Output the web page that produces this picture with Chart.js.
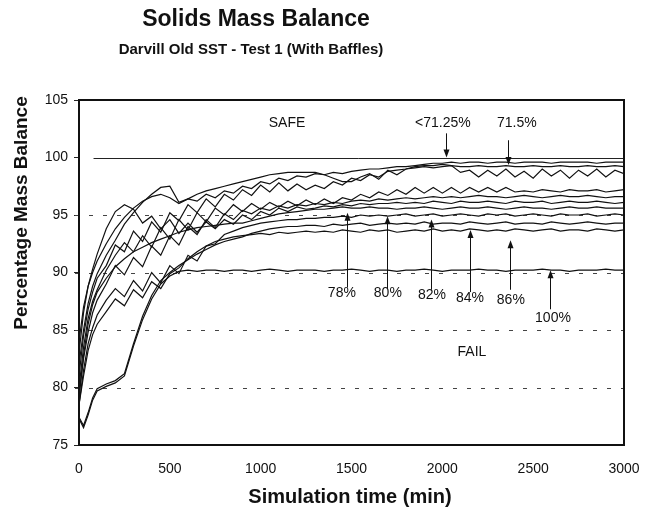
<!DOCTYPE html>
<html>
<head>
<meta charset="utf-8">
<script src="https://cdn.jsdelivr.net/npm/chart.js@4.4.1/dist/chart.umd.min.js"></script>
<style>
  html, body { margin: 0; padding: 0; background: #fff; }
  #wrap { width: 656px; height: 510px; position: relative; }
</style>
</head>
<body>
<div id="wrap"><canvas id="chart"></canvas></div>
<script>
// Simulation time (min), shared by every run
const times = [0, 25, 50, 75, 100, 150, 200, 250,
  300, 350, 400, 450, 500, 550, 600, 650, 700, 750,
  800, 850, 900, 950, 1000, 1050, 1100, 1150, 1200, 1250,
  1300, 1350, 1400, 1450, 1500, 1550, 1600, 1650, 1700, 1750,
  1800, 1850, 1900, 1950, 2000, 2050, 2100, 2150, 2200, 2250,
  2300, 2350, 2400, 2450, 2500, 2550, 2600, 2650, 2700, 2750,
  2800, 2850, 2900, 2950, 3000];

// Percentage mass balance per run
const runA = [82.0, 85.0, 87.3, 88.8, 89.9, 91.5, 92.8, 94.2,
  95.2, 96.1, 96.8, 97.4, 97.5, 96.1, 96.4, 96.2, 96.8, 96.5,
  97.1, 96.9, 97.5, 97.3, 97.9, 97.7, 98.2, 98.0, 98.4, 98.3,
  98.6, 98.5, 98.7, 98.6, 98.8, 98.9, 99.0, 99.0, 99.1, 99.2,
  99.2, 99.3, 99.4, 99.5, 99.5, 99.6, 99.5, 99.6, 99.6, 99.5,
  99.6, 99.6, 99.5, 99.6, 99.6, 99.6, 99.5, 99.6, 99.6, 99.6,
  99.6, 99.5, 99.6, 99.6, 99.6];
const runB = [81.0, 84.5, 86.8, 88.3, 89.5, 90.6, 92.4, 91.8,
  93.6, 92.7, 94.4, 93.5, 95.2, 94.5, 95.9, 95.2, 96.4, 95.7,
  96.8, 96.3, 97.2, 96.7, 97.6, 97.0, 97.8, 97.1, 97.7, 97.2,
  97.6, 97.3, 97.9, 97.6, 98.2, 98.0, 98.5, 98.3, 98.8, 98.9,
  99.0, 99.2, 99.3, 99.3, 99.4, 99.3, 98.7, 98.9, 98.3, 98.9,
  98.4, 99.0, 98.3, 98.8, 98.2, 99.0, 98.4, 98.9, 98.2, 98.9,
  98.4, 99.0, 98.3, 98.9, 98.6];
const runC = [84.0, 87.0, 88.8, 90.0, 91.0, 92.5, 93.8, 94.8,
  95.6, 96.2, 96.6, 96.8, 96.5, 96.0, 96.4, 96.8, 97.1, 97.3,
  97.5, 97.7, 97.9, 98.1, 98.3, 98.5, 98.6, 98.7, 98.7, 98.7,
  98.7, 98.5, 98.2, 97.9, 97.9, 98.3, 98.6, 98.1, 98.9, 98.5,
  99.0, 99.1, 99.2, 99.1, 99.2, 99.3, 99.2, 99.2, 99.3, 99.2,
  99.2, 99.3, 99.2, 99.2, 99.3, 99.2, 99.2, 99.3, 99.2, 99.2,
  99.3, 99.2, 99.2, 99.3, 99.2];
const runD = [80.0, 83.5, 86.0, 87.5, 88.5, 90.2, 91.5, 92.6,
  91.8, 93.2, 92.2, 93.9, 92.9, 94.6, 93.7, 95.2, 94.4, 95.6,
  95.0, 95.9, 95.3, 96.0, 95.5, 96.1, 95.7, 96.2, 95.8, 96.3,
  95.9, 96.4, 96.0, 96.5, 96.3, 96.8, 96.5, 97.0, 96.7, 97.2,
  96.8, 97.4, 96.9, 97.4, 96.9, 97.4, 96.9, 97.4, 97.0, 97.4,
  97.0, 97.4, 97.0, 97.1, 97.0, 97.2, 97.1, 97.0, 97.2, 97.1,
  97.1, 97.2, 97.0, 97.1, 97.2];
const runE = [79.5, 82.5, 84.8, 86.5, 87.6, 89.0, 90.6, 89.8,
  91.3, 90.5, 92.3, 91.5, 93.2, 92.4, 94.0, 93.3, 94.6, 93.9,
  95.1, 94.6, 95.4, 95.1, 95.6, 95.4, 95.8, 95.6, 95.9, 95.8,
  96.0, 95.9, 96.1, 96.0, 96.2, 96.3, 96.2, 96.4, 96.3, 96.4,
  96.5, 96.4, 96.5, 96.6, 96.5, 96.6, 96.5, 96.6, 96.7, 96.6,
  96.6, 96.5, 96.6, 96.7, 96.6, 96.5, 96.6, 96.7, 96.6, 96.6,
  96.7, 96.6, 96.5, 96.6, 96.6];
const run78 = [83.0, 86.5, 88.8, 90.3, 91.6, 93.8, 95.3, 95.9,
  95.5, 94.3, 94.9, 93.8, 94.6, 93.4, 94.3, 93.5, 94.4, 93.8,
  94.6, 94.2, 95.0, 94.6, 95.3, 95.0, 95.6, 95.3, 95.7, 95.5,
  95.6, 95.8, 95.7, 95.9, 95.8, 96.0, 95.9, 96.0, 96.0, 96.1,
  96.0, 96.1, 96.0, 96.2, 96.1, 96.0, 96.2, 96.1, 96.1, 96.2,
  96.1, 96.0, 96.2, 96.1, 96.1, 96.2, 96.0, 96.1, 96.2, 96.1,
  96.1, 96.2, 96.1, 96.0, 96.1];
const run80 = [79.0, 82.8, 85.5, 87.2, 88.3, 89.5, 90.5, 91.2,
  91.8, 92.2, 92.6, 92.9, 93.2, 93.5, 93.7, 93.9, 94.0, 94.1,
  94.2, 94.3, 94.3, 94.5, 94.7, 94.9, 95.1, 95.2, 95.3, 95.4,
  95.5, 95.5, 95.6, 95.7, 95.6, 95.6, 95.7, 95.6, 95.6, 95.5,
  95.6, 95.6, 95.7, 95.6, 95.5, 95.6, 95.7, 95.6, 95.6, 95.7,
  95.6, 95.5, 95.6, 95.7, 95.6, 95.6, 95.5, 95.6, 95.7, 95.6,
  95.6, 95.7, 95.6, 95.6, 95.6];
const run82 = [78.5, 81.5, 83.8, 85.2, 86.3, 87.6, 88.6, 87.9,
  89.3, 88.4, 90.0, 89.1, 90.6, 89.9, 91.5, 91.0, 92.3, 92.5,
  93.3, 93.6, 93.9, 94.1, 94.3, 94.4, 94.5, 94.6, 94.6, 94.7,
  94.7, 94.8, 94.8, 94.9, 94.8, 95.0, 94.9, 95.0, 94.9, 95.0,
  95.1, 94.9, 95.0, 95.1, 94.9, 95.0, 95.1, 95.0, 94.9, 95.1,
  95.0, 95.1, 94.9, 95.0, 95.1, 95.0, 94.9, 95.1, 95.0, 95.0,
  95.1, 94.9, 95.0, 95.1, 95.0];
const run84 = [77.4, 76.7, 77.8, 79.1, 79.9, 80.3, 80.6, 81.2,
  83.8, 86.2, 88.0, 89.3, 90.0, 90.6, 91.1, 91.6, 92.0, 92.4,
  92.7, 92.9, 93.1, 93.4, 93.6, 93.8, 93.9, 94.0, 94.0, 94.1,
  94.1, 94.0, 94.2, 94.1, 94.2, 94.3, 94.1, 94.2, 94.3, 94.2,
  94.3, 94.2, 94.4, 94.2, 94.3, 94.3, 94.2, 94.4, 94.3, 94.2,
  94.3, 94.4, 94.2, 94.3, 94.3, 94.2, 94.4, 94.3, 94.2, 94.3,
  94.4, 94.3, 94.2, 94.3, 94.3];
const run86 = [78.5, 81.0, 83.2, 84.6, 85.5, 86.6, 87.7, 87.1,
  88.5, 87.8, 89.2, 88.6, 89.9, 90.4, 91.2, 91.8, 92.3, 92.7,
  92.9, 93.1, 93.2, 93.3, 93.4, 93.3, 93.5, 93.4, 93.5, 93.6,
  93.5, 93.6, 93.5, 93.7, 93.6, 93.5, 93.7, 93.6, 93.7, 93.5,
  93.6, 93.7, 93.6, 93.8, 93.6, 93.7, 93.6, 93.8, 93.7, 93.6,
  93.7, 93.6, 93.8, 93.7, 93.6, 93.7, 93.8, 93.6, 93.7, 93.7,
  93.6, 93.8, 93.7, 93.6, 93.7];
const run100 = [77.3, 76.5, 77.6, 78.9, 79.7, 80.1, 80.4, 81.0,
  83.6, 85.9, 87.7, 89.0, 89.7, 90.1, 90.2, 90.1, 90.2, 90.2,
  90.1, 90.2, 90.2, 90.1, 90.2, 90.3, 90.2, 90.1, 90.2, 90.2,
  90.2, 90.1, 90.2, 90.2, 90.3, 90.2, 90.1, 90.2, 90.2, 90.1,
  90.2, 90.2, 90.3, 90.2, 90.1, 90.2, 90.2, 90.2, 90.3, 90.2,
  90.2, 90.1, 90.2, 90.2, 90.2, 90.3, 90.2, 90.2, 90.1, 90.2,
  90.2, 90.2, 90.3, 90.2, 90.2];

const runs = [runA, runB, runC, runD, runE, run78, run80, run82, run84, run86, run100];
const runNames = ['<71.25% a', '71.5%', '<71.25% b', '<71.25% c', '<71.25% d',
  '78%', '80%', '82%', '84%', '86%', '100%'];

// reference levels
const safeLevel = 100;
const dashLevels = [95, 90, 85, 80];

// annotations (data coordinates)
const noteText = ['SAFE', '<71.25%', '71.5%', '78%', '80%', '82%', '84%', '86%', '100%', 'FAIL'];
const noteX = [1145, 2003, 2410, 1447, 1700, 1943, 2152, 2377, 2609, 2163];
const noteY = [103.0, 103.0, 103.0, 88.2, 88.2, 88.0, 87.8, 87.6, 86.0, 83.1];
const arrowX = [2020, 2361, 1475, 1695, 1937, 2152, 2372, 2592];
const arrowFrom = [102.1, 101.5, 88.7, 88.6, 88.5, 88.3, 88.5, 86.8];
const arrowTo = [100.0, 99.35, 95.2, 94.9, 94.6, 93.7, 92.8, 90.2];

const FONT = '"Liberation Sans", Arial, sans-serif';

const decor = {
  id: 'decor',
  beforeDatasetsDraw(chart) {
    const {ctx, chartArea: a, scales: {x, y}} = chart;
    ctx.save();
    ctx.lineWidth = 1;
    ctx.strokeStyle = '#444';
    ctx.setLineDash([4, 10]);
    dashLevels.forEach(v => {
      const py = Math.round(y.getPixelForValue(v)) + 0.5;
      ctx.beginPath(); ctx.moveTo(a.left - 4, py); ctx.lineTo(a.right, py); ctx.stroke();
    });
    ctx.setLineDash([]);
    ctx.strokeStyle = '#222';
    const py = Math.round(y.getPixelForValue(safeLevel)) + 0.5;
    ctx.beginPath(); ctx.moveTo(x.getPixelForValue(80), py); ctx.lineTo(a.right, py); ctx.stroke();
    ctx.restore();
  },
  afterDatasetsDraw(chart) {
    const {ctx, chartArea: a, scales: {x, y}} = chart;
    ctx.save();
    // frame
    ctx.strokeStyle = '#111';
    ctx.lineWidth = 2;
    ctx.strokeRect(a.left, a.top, a.right - a.left, a.bottom - a.top);
    // arrows
    ctx.lineWidth = 1;
    ctx.fillStyle = '#111';
    arrowX.forEach((v, i) => {
      const px = Math.round(x.getPixelForValue(v)) + 0.5;
      const p0 = y.getPixelForValue(arrowFrom[i]);
      const p1 = y.getPixelForValue(arrowTo[i]);
      const dir = p1 > p0 ? 1 : -1;
      ctx.beginPath(); ctx.moveTo(px, p0); ctx.lineTo(px, p1 - dir * 6); ctx.stroke();
      ctx.beginPath();
      ctx.moveTo(px, p1);
      ctx.lineTo(px - 3, p1 - dir * 8);
      ctx.lineTo(px + 3, p1 - dir * 8);
      ctx.closePath(); ctx.fill();
    });
    // labels
    ctx.font = '14px ' + FONT;
    ctx.textAlign = 'center';
    ctx.textBaseline = 'middle';
    noteText.forEach((t, i) => {
      ctx.fillText(t, x.getPixelForValue(noteX[i]), y.getPixelForValue(noteY[i]));
    });
    ctx.restore();
  },
  afterDraw(chart) {
    const {ctx} = chart;
    ctx.save();
    ctx.fillStyle = '#111';
    ctx.textAlign = 'center';
    ctx.textBaseline = 'middle';
    ctx.font = 'bold 23px ' + FONT;
    ctx.fillText('Solids Mass Balance', 256, 20);
    ctx.font = 'bold 15px ' + FONT;
    ctx.fillText('Darvill Old SST - Test 1 (With Baffles)', 251, 50);
    ctx.font = 'bold 20px ' + FONT;
    ctx.fillText('Simulation time (min)', 350, 497);
    ctx.font = 'bold 19px ' + FONT;
    ctx.translate(22, 213);
    ctx.rotate(-Math.PI / 2);
    ctx.fillText('Percentage Mass Balance', 0, 0);
    ctx.restore();
  }
};

const ctx = document.getElementById('chart').getContext('2d');
new Chart(ctx, {
  type: 'line',
  data: {
    datasets: runs.map((vals, i) => ({
      label: runNames[i],
      data: times.map((t, j) => ({x: t, y: vals[j]})),
      borderColor: '#111',
      borderWidth: 1.2,
      pointRadius: 0,
      tension: 0,
      fill: false
    }))
  },
  options: {
    responsive: true,
    maintainAspectRatio: false,
    animation: false,
    layout: { padding: { top: 100, right: 32, bottom: 30, left: 0 } },
    plugins: { legend: { display: false }, tooltip: { enabled: false } },
    scales: {
      x: {
        type: 'linear', min: 0, max: 3000,
        afterFit: s => { s.height = 35; },
        ticks: { stepSize: 500, padding: 8, maxRotation: 0, color: '#111',
          font: { family: FONT, size: 14 }, callback: v => String(v) },
        grid: { display: false },
        border: { display: false }
      },
      y: {
        min: 75, max: 105,
        afterFit: s => { s.width = 79; },
        ticks: { stepSize: 5, padding: 6, color: '#111', font: { family: FONT, size: 14 } },
        grid: { drawOnChartArea: false, tickLength: 5, color: '#222' },
        border: { display: false }
      }
    }
  },
  plugins: [decor]
});
</script>
</body>
</html>
